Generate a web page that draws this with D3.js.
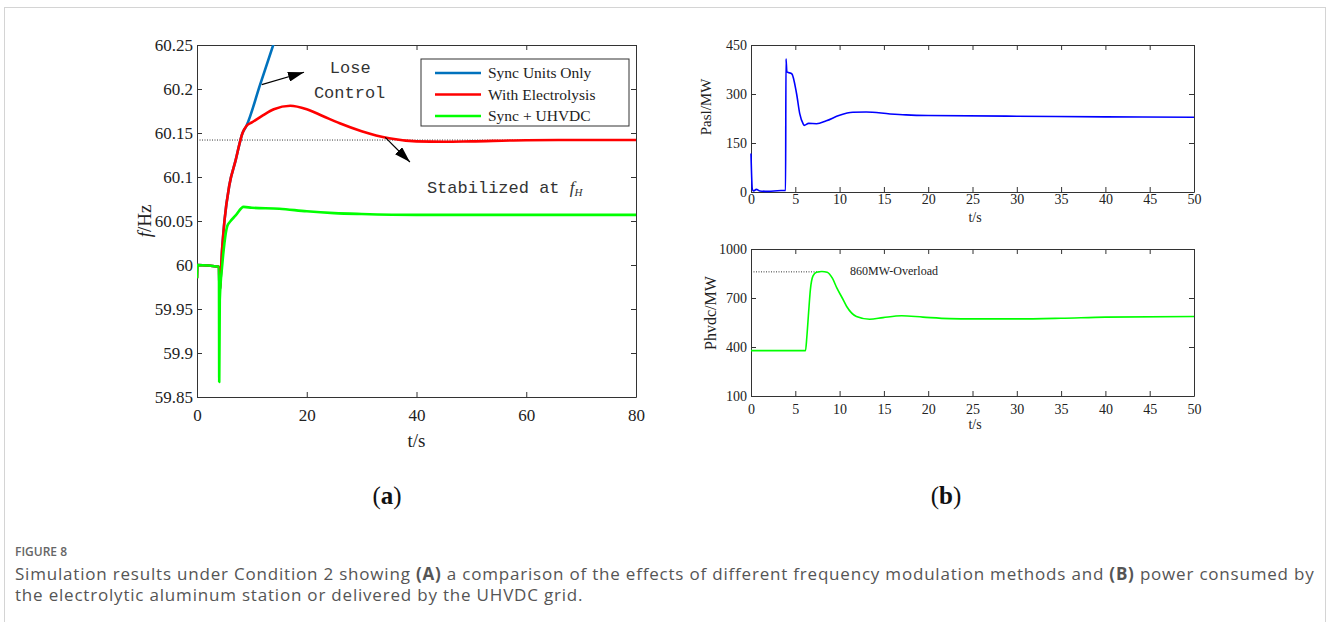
<!DOCTYPE html>
<html>
<head>
<meta charset="utf-8">
<script src="https://cdn.jsdelivr.net/npm/d3@7"></script>
<style>
body { margin: 0; background: #fff; }
svg { display: block; }
</style>
</head>
<body>
<svg id="fig"></svg>
<script>
// ---- data ----
// panel (a): frequency after disturbance, three control cases
const syncOnlyT = [0, 0.08, 4.0, 4.1, 4.6, 5.0, 5.9, 7.0, 8.3, 9.0, 11.5, 14.0, 15.0]
const syncOnlyF = [59.985, 60.0, 59.998, 59.97, 60.02, 60.05, 60.091, 60.118, 60.15, 60.158, 60.205, 60.252, 60.271]

const electroT = [0, 0.08, 4.0, 4.1, 4.6, 5.0, 5.9, 7.0, 8.3, 9.0, 10, 12, 14, 17, 20, 23, 26, 30, 35, 40, 45, 50, 60, 70, 80]
const electroF = [59.985, 60.0, 59.998, 59.97, 60.02, 60.05, 60.091, 60.118, 60.15, 60.158, 60.162, 60.17, 60.177, 60.181, 60.177, 60.169, 60.161, 60.152, 60.144, 60.1405, 60.140, 60.1405, 60.1418, 60.142, 60.142]

const uhvdcT = [0, 0.08, 4.0, 4.05, 4.15, 4.6, 5.0, 5.5, 6.0, 7.0, 8.5, 10, 15, 20, 25, 30, 40, 50, 60, 80]
const uhvdcF = [59.985, 60.0, 59.998, 59.867, 59.96, 60.0, 60.025, 60.044, 60.049, 60.056, 60.066, 60.065, 60.064, 60.061, 60.059, 60.058, 60.057, 60.057, 60.057, 60.057]

const seriesNames = ['Sync Units Only', 'With Electrolysis', 'Sync + UHVDC']
const fH = 60.142

// panel (b) top: power taken by the electrolytic aluminium station
const paslT = [0, 0.15, 0.3, 0.6, 1, 2, 3, 3.9, 3.95, 4.05, 4.2, 4.6, 5.15, 5.5, 5.9, 6.0, 6.5, 7.4, 8.5, 10, 11.5, 13, 15.7, 17.5, 20, 30, 40, 50]
const paslP = [118, 8, 3, 8, 3, 2, 4, 5, 408, 368, 366, 362, 300, 240, 208, 204, 210, 209, 218, 235, 244, 245, 239, 236, 234, 232, 230, 229]

// panel (b) bottom: power delivered by the UHVDC line
const hvdcT = [0, 6.15, 6.3, 6.5, 6.7, 7.0, 7.4, 8.0, 8.6, 9.2, 9.7, 10.3, 10.8, 11.9, 13.4, 14.9, 17, 19.4, 22.4, 25, 30, 35, 40, 50]
const hvdcP = [378, 378, 460, 610, 750, 835, 858, 862, 858, 820, 760, 700, 648, 587, 570, 580, 591, 583, 574, 572, 572, 576, 583, 587]
const overloadP = 860
const overloadEndT = 7.8

// tick values
const fTicks = [59.85, 59.9, 59.95, 60, 60.05, 60.1, 60.15, 60.2, 60.25]
const tTicksA = [0, 20, 40, 60, 80]
const tTicksB = [0, 5, 10, 15, 20, 25, 30, 35, 40, 45, 50]
const paslTicks = [0, 150, 300, 450]
const hvdcTicks = [100, 400, 700, 1000]

// annotations of panel (a), in data units
const arrows = [
    {from: [11.8, 60.205], to: [19.5, 60.219]},
    {from: [34.3, 60.145], to: [38.8, 60.117]}
]

const W = 1328, H = 622
const serif = '"Liberation Serif", "Times New Roman", serif'
const mono = '"Liberation Mono", "Courier New", monospace'
const sans = '"Open Sans", "Noto Sans", sans-serif'

const svg = d3.select('#fig').attr('width', W).attr('height', H)

// outer light frame of the figure box
svg.append('rect')
    .attr('x', 4.5).attr('y', 7.5)
    .attr('width', 1321).attr('height', 640)
    .attr('fill', 'none').attr('stroke', '#d4d4d4')

svg.append('defs').append('marker')
    .attr('id', 'head')
    .attr('markerUnits', 'userSpaceOnUse')
    .attr('viewBox', '0 0 16 10')
    .attr('markerWidth', 16).attr('markerHeight', 10)
    .attr('refX', 16).attr('refY', 5)
    .attr('orient', 'auto')
    .append('path')
    .attr('d', 'M0,0 L16,5 L0,10 Z')
    .attr('fill', '#000')

function frame(g, x, y, xt, yt, fs, padX, padY, yFmt) {
    const [x0, x1] = x.range()
    const [y0, y1] = y.range()
    g.append('g').attr('transform', `translate(0,${y0})`)
        .call(d3.axisBottom(x).tickValues(xt).tickSize(-5).tickSizeOuter(0).tickPadding(padX))
    g.append('g').attr('transform', `translate(0,${y1})`)
        .call(d3.axisTop(x).tickValues(xt).tickSize(-5).tickSizeOuter(0).tickFormat(''))
    g.append('g').attr('transform', `translate(${x0},0)`)
        .call(d3.axisLeft(y).tickValues(yt).tickSize(-5).tickSizeOuter(0).tickPadding(padY).tickFormat(yFmt))
    g.append('g').attr('transform', `translate(${x1},0)`)
        .call(d3.axisRight(y).tickValues(yt).tickSize(-5).tickSizeOuter(0).tickFormat(''))
    g.selectAll('.tick text')
        .attr('font-family', serif)
        .attr('font-size', fs)
        .attr('fill', '#222')
    g.selectAll('.domain, .tick line').attr('stroke', '#333')
}

function zip(ts, vs) {
    return ts.map((t, i) => ({t: t, v: vs[i]}))
}

// ================= panel (a) =================
const xA = d3.scaleLinear().domain([0, 80]).range([197, 636])
const yA = d3.scaleLinear().domain([59.85, 60.25]).range([397, 45])
const gA = svg.append('g')

gA.append('clipPath').attr('id', 'clipA')
    .append('rect')
    .attr('x', 197).attr('y', 45).attr('width', 439).attr('height', 352)

frame(gA, xA, yA, tTicksA, fTicks, 17, 12, 4, d => String(+d.toFixed(2)))

// reference line at f_H
gA.append('line')
    .attr('x1', xA(0)).attr('x2', xA(80))
    .attr('y1', yA(fH)).attr('y2', yA(fH))
    .attr('stroke', '#333').attr('stroke-width', 1)
    .attr('stroke-dasharray', '1,1.5')

const lineA = d3.line()
    .x(d => xA(d.t)).y(d => yA(d.v))
    .curve(d3.curveMonotoneX)

const colorsA = ['#0072BD', '#ff0000', '#00ff00']
const dataA = [zip(syncOnlyT, syncOnlyF), zip(electroT, electroF), zip(uhvdcT, uhvdcF)]

gA.append('g').attr('clip-path', 'url(#clipA)')
    .selectAll('path')
    .data(dataA)
    .join('path')
    .attr('d', lineA)
    .attr('fill', 'none')
    .attr('stroke', (d, i) => colorsA[i])
    .attr('stroke-width', 2.6)
    .attr('stroke-linejoin', 'round')

// arrows
gA.selectAll('.arrow')
    .data(arrows)
    .join('line')
    .attr('class', 'arrow')
    .attr('x1', d => xA(d.from[0])).attr('y1', d => yA(d.from[1]))
    .attr('x2', d => xA(d.to[0])).attr('y2', d => yA(d.to[1]))
    .attr('stroke', '#000').attr('stroke-width', 1.2)
    .attr('marker-end', 'url(#head)')

gA.append('text')
    .attr('x', xA(24.2)).attr('y', yA(60.218))
    .attr('font-family', mono).attr('font-size', 17).attr('fill', '#333')
    .text('Lose')
gA.append('text')
    .attr('x', xA(21.3)).attr('y', yA(60.19))
    .attr('font-family', mono).attr('font-size', 17).attr('fill', '#333')
    .text('Control')

const stab = gA.append('text')
    .attr('x', xA(41.9)).attr('y', yA(60.082))
    .attr('font-family', mono).attr('font-size', 17).attr('fill', '#333')
stab.append('tspan').text('Stabilized at ')
stab.append('tspan').attr('font-family', serif).attr('font-style', 'italic').text('f')
stab.append('tspan').attr('font-family', serif).attr('font-style', 'italic')
    .attr('font-size', 11).attr('dy', 3).text('H')

// legend
const leg = gA.append('g').attr('transform', 'translate(421,59)')
leg.append('rect')
    .attr('width', 208).attr('height', 67)
    .attr('fill', '#fff').attr('stroke', '#333')
seriesNames.forEach((name, i) => {
    const row = leg.append('g').attr('transform', `translate(0,${14 + i * 21.5})`)
    row.append('line')
        .attr('x1', 14).attr('x2', 60)
        .attr('stroke', colorsA[i]).attr('stroke-width', 2.6)
    row.append('text')
        .attr('x', 67).attr('y', 5)
        .attr('font-family', serif).attr('font-size', 15.5).attr('fill', '#222')
        .text(name)
})

// axis titles
const fLab = gA.append('text')
    .attr('transform', 'translate(151,221) rotate(-90)')
    .attr('text-anchor', 'middle')
    .attr('font-family', serif).attr('font-size', 19).attr('fill', '#222')
fLab.append('tspan').attr('font-style', 'italic').text('f')
fLab.append('tspan').text('/Hz')

gA.append('text')
    .attr('x', (197 + 636) / 2).attr('y', 447)
    .attr('text-anchor', 'middle')
    .attr('font-family', serif).attr('font-size', 19).attr('fill', '#222')
    .text('t/s')

// ================= panel (b) =================
const xB = d3.scaleLinear().domain([0, 50]).range([751, 1194])

// top: Pasl
const yB1 = d3.scaleLinear().domain([0, 450]).range([192, 45])
const gB1 = svg.append('g')
frame(gB1, xB, yB1, tTicksB, paslTicks, 14, 2, 4, d => d)

gB1.append('path')
    .datum(zip(paslT, paslP))
    .attr('d', d3.line().x(d => xB(d.t)).y(d => yB1(d.v)).curve(d3.curveMonotoneX))
    .attr('fill', 'none')
    .attr('stroke', '#0000ff')
    .attr('stroke-width', 1.6)

gB1.append('text')
    .attr('transform', 'translate(711,107) rotate(-90)')
    .attr('text-anchor', 'middle')
    .attr('font-family', serif).attr('font-size', 15).attr('fill', '#222')
    .text('Pasl/MW')

gB1.append('text')
    .attr('x', 975).attr('y', 222)
    .attr('text-anchor', 'middle')
    .attr('font-family', serif).attr('font-size', 14).attr('fill', '#222')
    .text('t/s')

// bottom: Phvdc
const yB2 = d3.scaleLinear().domain([100, 1000]).range([396, 249])
const gB2 = svg.append('g')
frame(gB2, xB, yB2, tTicksB, hvdcTicks, 14, 8, 4, d => d)

gB2.append('line')
    .attr('x1', xB(0)).attr('x2', xB(overloadEndT))
    .attr('y1', yB2(overloadP)).attr('y2', yB2(overloadP))
    .attr('stroke', '#333').attr('stroke-width', 1)
    .attr('stroke-dasharray', '1,1.5')

gB2.append('path')
    .datum(zip(hvdcT, hvdcP))
    .attr('d', d3.line().x(d => xB(d.t)).y(d => yB2(d.v)).curve(d3.curveMonotoneX))
    .attr('fill', 'none')
    .attr('stroke', '#00ff00')
    .attr('stroke-width', 1.6)

gB2.append('text')
    .attr('x', 850).attr('y', 275)
    .attr('font-family', serif).attr('font-size', 12).attr('fill', '#222')
    .text('860MW-Overload')

gB2.append('text')
    .attr('transform', 'translate(716,313) rotate(-90)')
    .attr('text-anchor', 'middle')
    .attr('font-family', serif).attr('font-size', 16).attr('fill', '#222')
    .text('Phvdc/MW')

gB2.append('text')
    .attr('x', 975).attr('y', 429)
    .attr('text-anchor', 'middle')
    .attr('font-family', serif).attr('font-size', 14).attr('fill', '#222')
    .text('t/s')

// ================= sub-figure tags and caption =================
;[['a', 387], ['b', 946]].forEach(([tag, cx]) => {
    const t = svg.append('text')
        .attr('x', cx).attr('y', 504)
        .attr('text-anchor', 'middle')
        .attr('font-family', serif).attr('font-size', 25).attr('fill', '#111')
    t.append('tspan').text('(')
    t.append('tspan').attr('font-weight', 'bold').text(tag)
    t.append('tspan').text(')')
})

svg.append('text')
    .attr('x', 15).attr('y', 556)
    .attr('font-family', sans).attr('font-size', 12).attr('font-weight', 600)
    .attr('fill', '#666')
    .text('FIGURE 8')

const cap1 = svg.append('text')
    .attr('x', 15).attr('y', 580)
    .attr('font-family', sans).attr('font-size', 17).attr('fill', '#555')
    .attr('letter-spacing', 0.8)
cap1.append('tspan').text('Simulation results under Condition 2 showing ')
cap1.append('tspan').attr('font-weight', 700).text('(A)')
cap1.append('tspan').text(' a comparison of the effects of different frequency modulation methods and ')
cap1.append('tspan').attr('font-weight', 700).text('(B)')
cap1.append('tspan').text(' power consumed by')

svg.append('text')
    .attr('x', 15).attr('y', 601)
    .attr('font-family', sans).attr('font-size', 17).attr('fill', '#555')
    .attr('letter-spacing', 0.8)
    .text('the electrolytic aluminum station or delivered by the UHVDC grid.')
</script>
</body>
</html>
